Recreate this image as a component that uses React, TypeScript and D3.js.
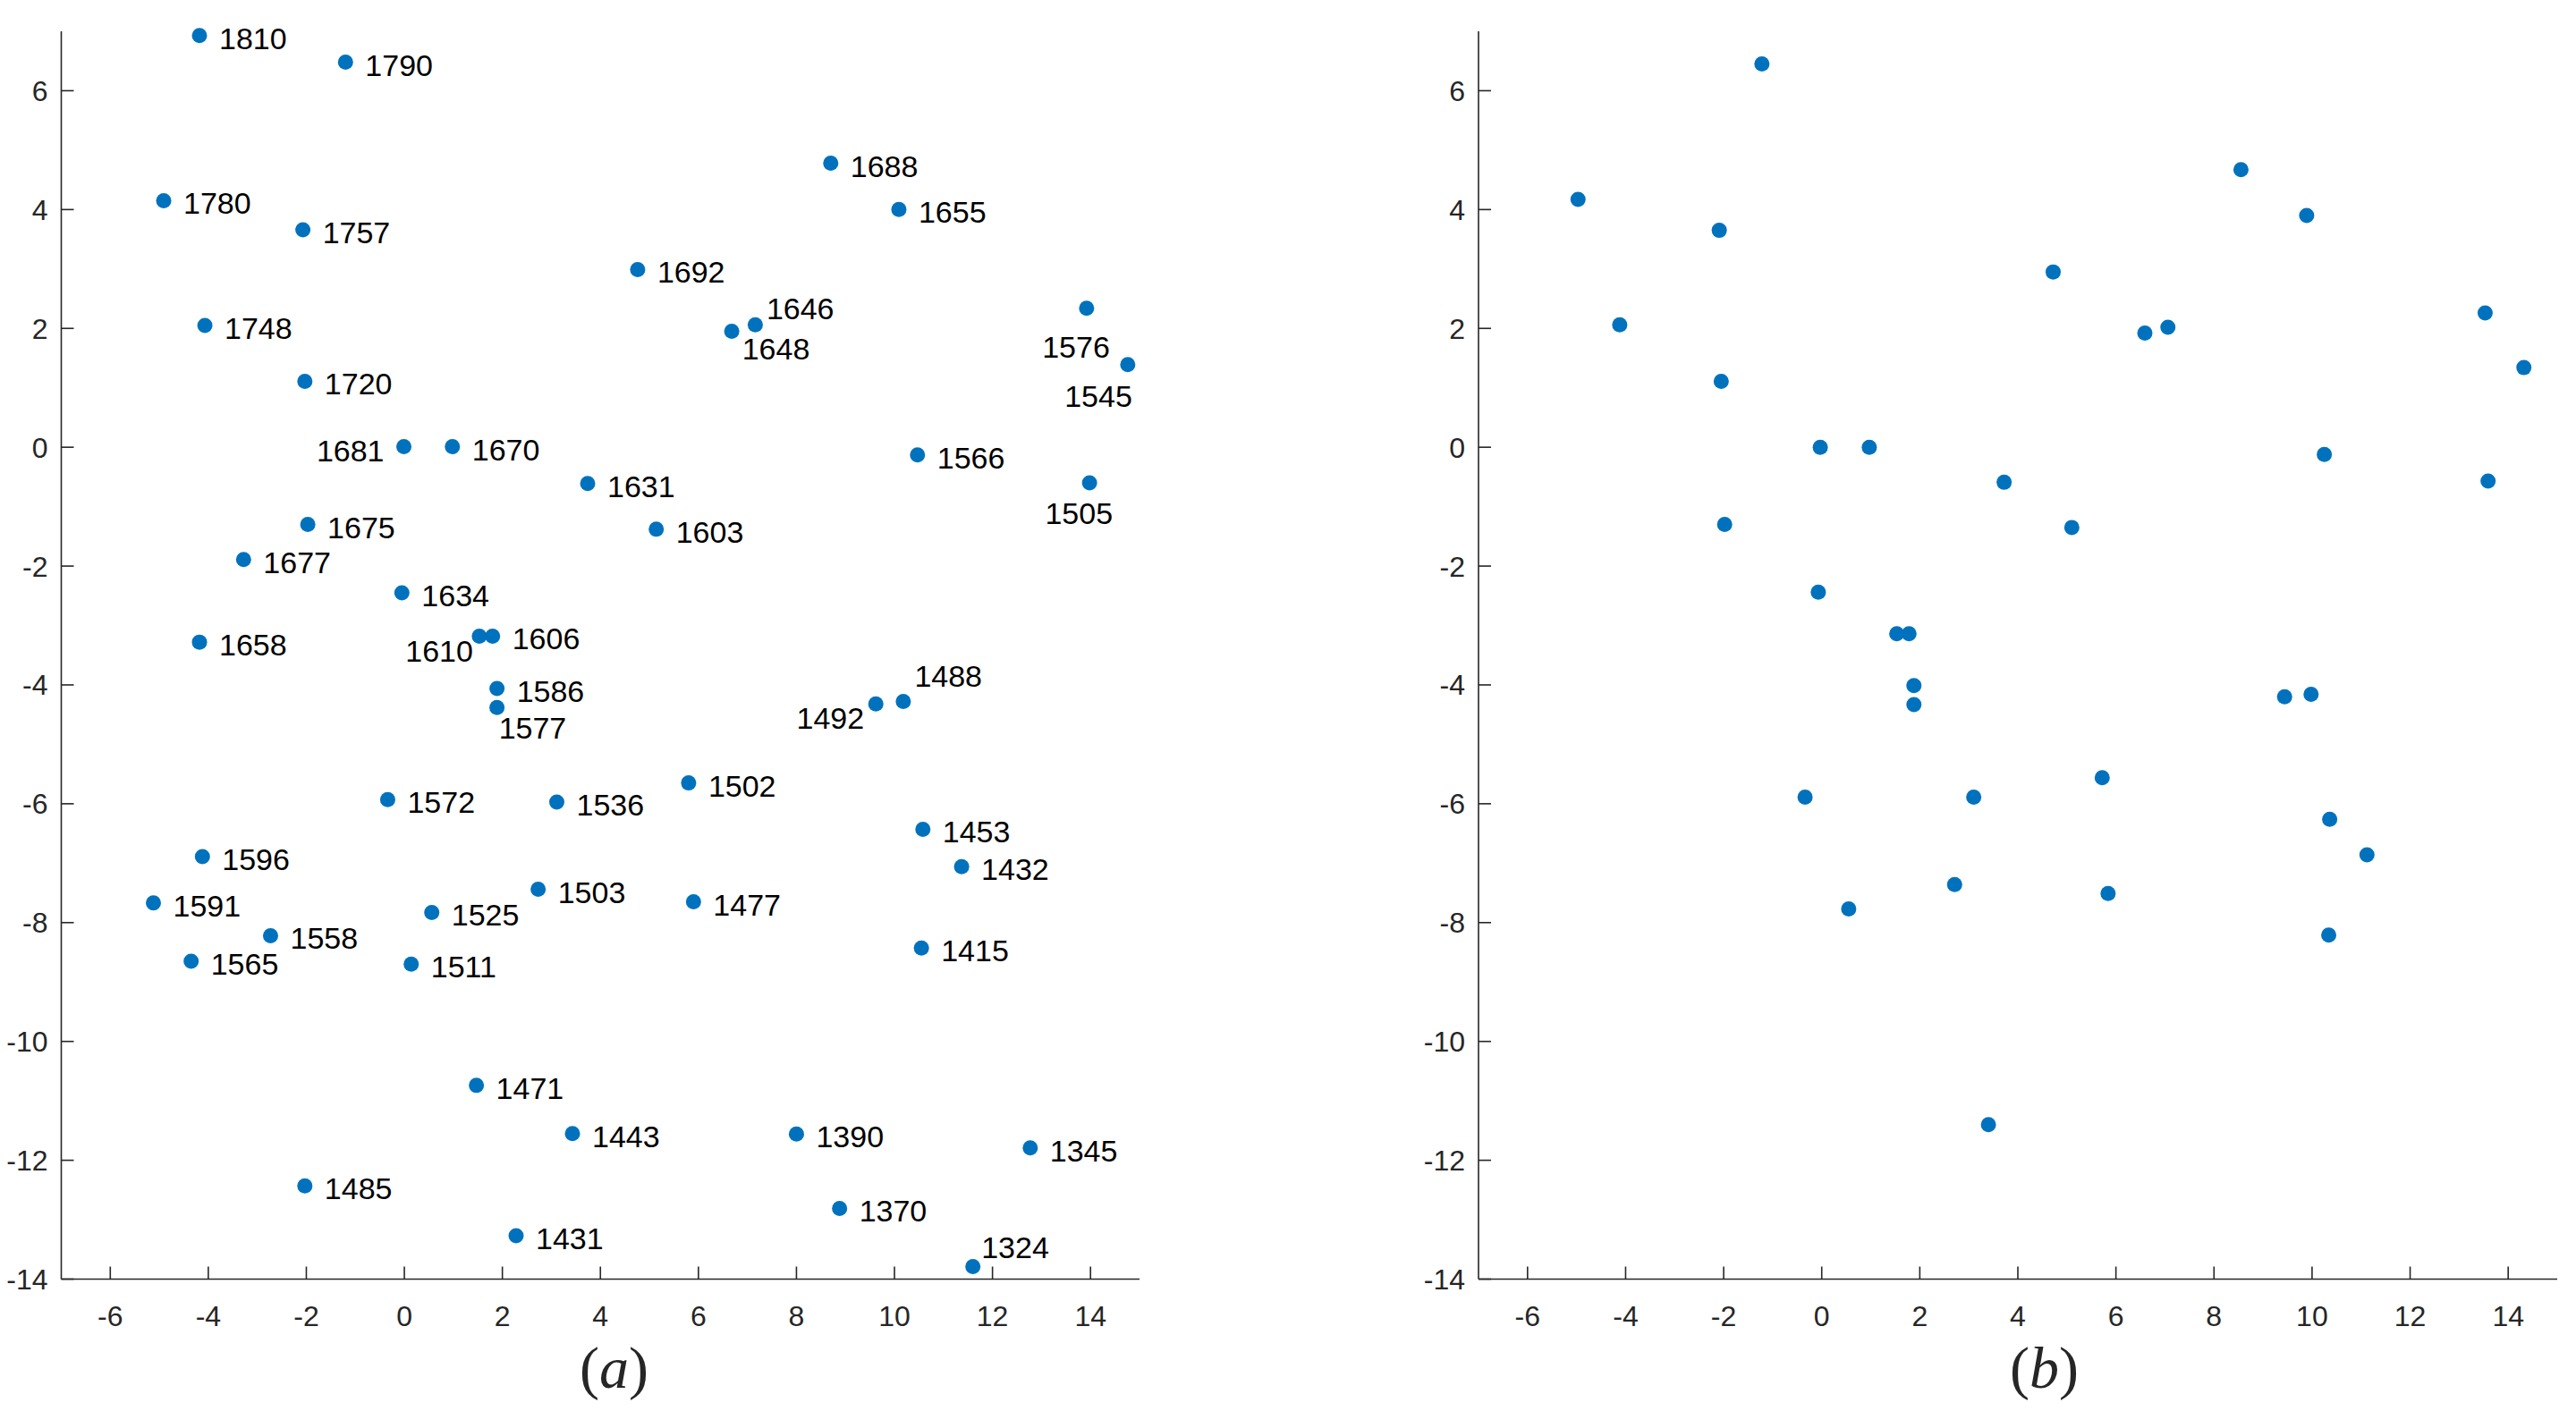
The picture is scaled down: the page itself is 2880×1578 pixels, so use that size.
// Two MDS-style scatter panels: (a) labelled with years, (b) unlabelled.
import { useEffect } from 'react'
import * as d3 from 'd3'

const W = 2880
const H = 1578

// ── Panel (a) data ──────────────────────────────────────────────────────
const YEARS_A = [
  '1810', '1790', '1780', '1757', '1748', '1720', '1681', '1670', '1631',
  '1688', '1655', '1692', '1646', '1648', '1576', '1545', '1566', '1505',
  '1675', '1677', '1634', '1658', '1610', '1606', '1586', '1577', '1572',
  '1536', '1596', '1591', '1525', '1503', '1558', '1603', '1492', '1488',
  '1502', '1453', '1432', '1477', '1565', '1511', '1471', '1443', '1485',
  '1431', '1415', '1390', '1345', '1370', '1324',
]
const X_A = [
  -4.18, -1.2, -4.91, -2.07, -4.07, -2.03, -0.01, 0.98, 3.74,
  8.7, 10.09, 4.76, 7.16, 6.68, 13.92, 14.76, 10.47, 13.98,
  -1.97, -3.28, -0.05, -4.18, 1.53, 1.8, 1.89, 1.89, -0.34,
  3.11, -4.12, -5.12, 0.56, 2.73, -2.73, 5.14, 9.62, 10.18,
  5.8, 10.58, 11.37, 5.9, -4.35, 0.14, 1.47, 3.43, -2.03,
  2.28, 10.55, 8.0, 12.77, 8.88, 11.6,
]
const Y_A = [
  6.93, 6.48, 4.15, 3.66, 2.05, 1.11, 0.01, 0.01, -0.61,
  4.78, 4.0, 2.99, 2.06, 1.95, 2.34, 1.39, -0.13, -0.6,
  -1.3, -1.89, -2.45, -3.28, -3.18, -3.18, -4.06, -4.38, -5.93,
  -5.97, -6.89, -7.67, -7.83, -7.44, -8.22, -1.38, -4.32, -4.28,
  -5.65, -6.43, -7.06, -7.65, -8.65, -8.7, -10.74, -11.55, -12.43,
  -13.27, -8.43, -11.56, -11.79, -12.81, -13.79,
]

// ── Panel (b) data ──────────────────────────────────────────────────────
const X_B = [
  -4.97, -1.22, -2.09, -4.12, -2.05, -0.03, 0.97, -1.98, 3.72,
  -0.07, 1.53, 1.78, 1.88, 1.88, 8.55, 9.89, 4.72, 6.59,
  7.06, 13.53, 14.32, 10.25, 13.59, 5.1, 9.44, 9.98, -0.34,
  3.1, 2.71, 0.55, 3.4, 5.72, 10.36, 11.12, 5.84, 10.34,
]
const Y_B = [
  4.17, 6.45, 3.65, 2.06, 1.11, 0.0, 0.0, -1.3, -0.59,
  -2.44, -3.14, -3.14, -4.01, -4.33, 4.67, 3.9, 2.95, 1.92,
  2.02, 2.26, 1.34, -0.12, -0.57, -1.35, -4.2, -4.16, -5.89,
  -5.89, -7.36, -7.77, -11.4, -5.56, -6.26, -6.86, -7.51, -8.21,
]

const X_TICKS = [-6, -4, -2, 0, 2, 4, 6, 8, 10, 12, 14]
const Y_TICKS = [-14, -12, -10, -8, -6, -4, -2, 0, 2, 4, 6]

// label offsets that deviate from "right of the dot"
const LABEL_OFFSETS: Record<string, [number, number, string]> = {
  '1681': [-22, 16, 'end'],
  '1646': [12.5, -6, 'start'],
  '1648': [11.6, 31, 'start'],
  '1576': [26, 55, 'end'],
  '1545': [5, 47.5, 'end'],
  '1505': [26, 46, 'end'],
  '1610': [-7, 29, 'end'],
  '1577': [2, 35, 'start'],
  '1492': [-13, 28, 'end'],
  '1488': [12.5, -17, 'start'],
  '1324': [9.5, -10, 'start'],
}

const TOP = 35
const BOTTOM = 1430.5
const AXIS = '#262626'
const DOT = '#0072BD'
const SANS = '"Liberation Sans", Arial, sans-serif'
const SERIF = '"Liberation Serif", "Times New Roman", serif'

const yScale = d3.scaleLinear().domain([-14, 7]).range([BOTTOM, TOP])

function Panel({ left, right, xs, ys, labels, caption, captionX }: any) {
  const x = d3.scaleLinear().domain([-7, 15]).range([left, right])
  const y = yScale
  return (
    <g>
      {/* axes */}
      <line x1={left} y1={TOP} x2={left} y2={BOTTOM} stroke={AXIS} strokeWidth={1.6} />
      <line x1={left} y1={BOTTOM} x2={right} y2={BOTTOM} stroke={AXIS} strokeWidth={1.6} />
      {Y_TICKS.map((t) => (
        <g key={'y' + t}>
          <line x1={left} x2={left + 14} y1={y(t)} y2={y(t)} stroke={AXIS} strokeWidth={1.6} />
          <text x={left - 15} y={y(t)} dy="0.36em" textAnchor="end" fontSize={32}
            fontFamily={SANS} fill={AXIS}>{t}</text>
        </g>
      ))}
      {X_TICKS.map((t) => (
        <g key={'x' + t}>
          <line x1={x(t)} x2={x(t)} y1={BOTTOM} y2={BOTTOM - 14} stroke={AXIS} strokeWidth={1.6} />
          <text x={x(t)} y={BOTTOM + 52} textAnchor="middle" fontSize={32}
            fontFamily={SANS} fill={AXIS}>{t}</text>
        </g>
      ))}

      {/* points */}
      {xs.map((v: number, i: number) => (
        <circle key={'p' + i} cx={x(v)} cy={y(ys[i])} r={8.5} fill={DOT} />
      ))}

      {/* year labels */}
      {labels && labels.map((lab: string, i: number) => {
        const [dx, dy, anchor] = LABEL_OFFSETS[lab] || [22, 15, 'start']
        return (
          <text key={'l' + i} x={x(xs[i]) + dx} y={y(ys[i]) + dy} textAnchor={anchor}
            fontSize={34} fontFamily={SANS} fill="#000">{lab}</text>
        )
      })}

      {/* caption */}
      <text x={captionX} y={1552} fontSize={66} fontFamily={SERIF} fill={AXIS}>
        <tspan>(</tspan>
        <tspan fontStyle="italic">{caption}</tspan>
        <tspan>)</tspan>
      </text>
    </g>
  )
}

export default function App() {
  useEffect(() => {
    document.body.style.margin = '0'
  }, [])

  return (
    <svg width={W} height={H} style={{ display: 'block', background: '#fff' }}>
      <rect width={W} height={H} fill="#fff" />
      <Panel left={68.5} right={1274} xs={X_A} ys={Y_A} labels={YEARS_A} caption="a" captionX={648} />
      <Panel left={1653} right={2859} xs={X_B} ys={Y_B} labels={null} caption="b" captionX={2247} />
    </svg>
  )
}
